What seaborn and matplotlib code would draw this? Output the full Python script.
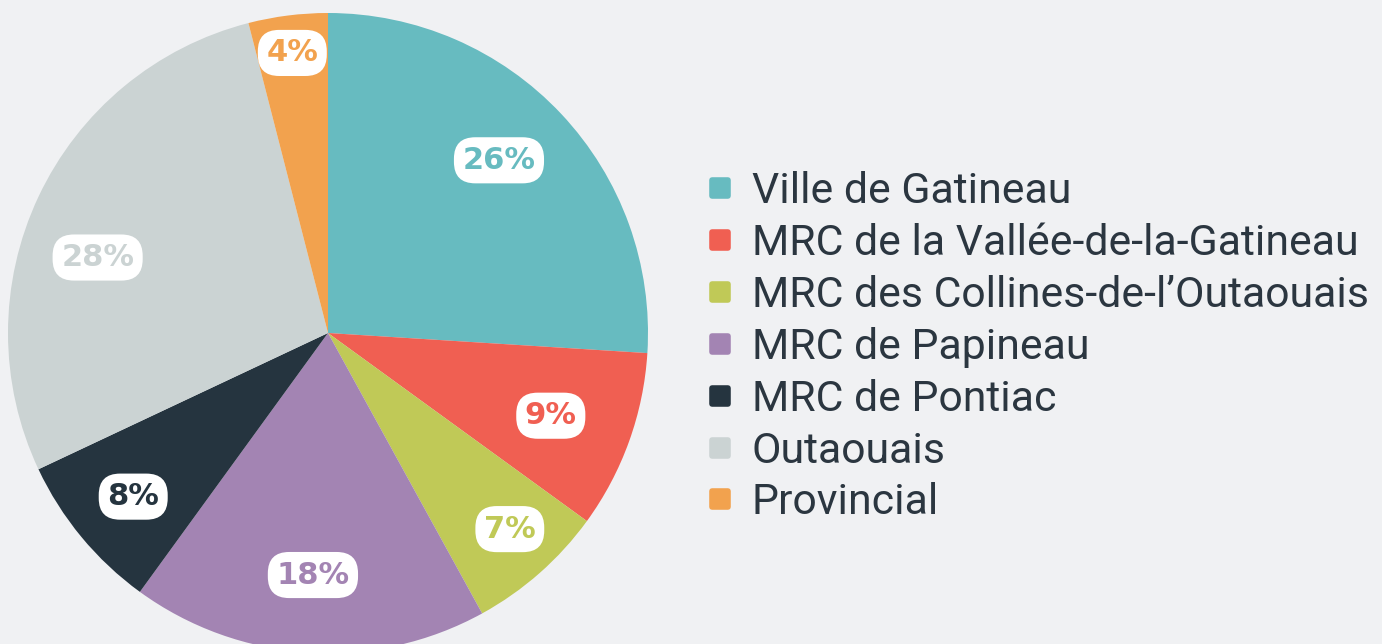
import numpy as np
import matplotlib
matplotlib.use("Agg")
import matplotlib.pyplot as plt
from matplotlib.lines import Line2D
from matplotlib.markers import MarkerStyle
import seaborn as sns

categories = ["Ville de Gatineau", "MRC de la Vallée-de-la-Gatineau",
              "MRC des Collines-de-l’Outaouais", "MRC de Papineau",
              "MRC de Pontiac", "Outaouais", "Provincial"]
values = [26, 9, 7, 18, 8, 28, 4]
labels = ["26%", "9%", "7%", "18%", "8%", "28%", "4%"]
colors = ["#67BBC0", "#F05F52", "#C0C957", "#A384B3", "#25343F", "#CBD3D3", "#F2A24E"]

BG = "#F0F1F3"
TXT = "#2B3640"

sns.set_theme(style="white", rc={"figure.facecolor": BG, "axes.facecolor": BG})
plt.rcParams['font.family'] = ['Roboto', 'DejaVu Sans']
palette = sns.color_palette(colors)

W, H = 1382, 644
fig = plt.figure(figsize=(W / 100, H / 100), dpi=100)
ax = fig.add_axes([0, 0, 1, 1])
ax.set_facecolor(BG)

cx, cy, R = 328, 644 - 333, 320
wedges, _ = ax.pie(values, colors=palette, startangle=90, counterclock=False,
                   radius=1.0, center=(0, 0), wedgeprops=dict(linewidth=0))
ax.set_xlim(-cx / R, (W - cx) / R)
ax.set_ylim(-cy / R, (H - cy) / R)
ax.set_aspect('auto')
ax.axis('off')

dists = [0.765, 0.74, 0.83, 0.75, 0.79, 0.76, 0.89]
angle_adj = [-2.5, 0, -1.8, 0, 0, -6.5, 0]
for w, lab, col, d, adj in zip(wedges, labels, colors, dists, angle_adj):
    mid = np.deg2rad((w.theta1 + w.theta2) / 2 - adj)
    x, y = d * np.cos(mid), d * np.sin(mid) - 2.5 / R
    ax.text(x, y, lab, ha='center', va='center', fontsize=22, fontweight='bold',
            color=col, family=['DejaVu Sans'],
            bbox=dict(boxstyle='round,pad=0.28,rounding_size=0.7', fc='white', ec='none'))

handles = [Line2D([], [], linestyle='none',
                  marker=MarkerStyle('s', joinstyle='round'), markersize=12,
                  markerfacecolor=c, markeredgecolor=c, markeredgewidth=4)
           for c in colors]
leg = fig.legend(handles, categories, loc='upper left',
                 bbox_to_anchor=(707 / W, 1 - 171 / H), frameon=False,
                 fontsize=30.8, labelspacing=0.255, handlelength=0.6,
                 handletextpad=0.45, labelcolor=TXT, borderpad=0, borderaxespad=0)

fig.savefig("out.png", dpi=100, facecolor=BG)
